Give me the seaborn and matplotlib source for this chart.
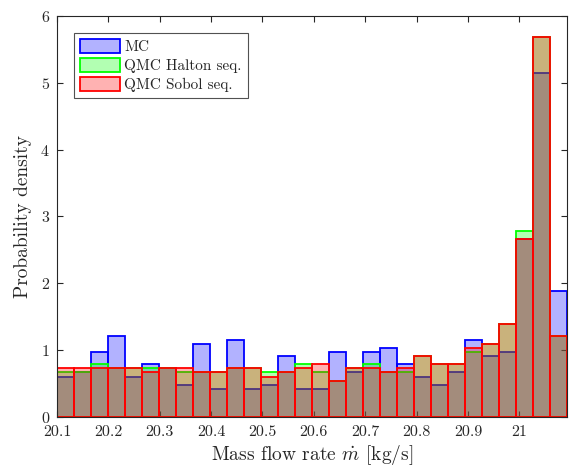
import numpy as np
import pandas as pd
import matplotlib
matplotlib.use("Agg")
import matplotlib.pyplot as plt
import seaborn as sns

# Histogram bins (30 equal bins)
bin_start = 20.1
bin_width = 0.03308
n_bins = 30

# Probability density per bin for each sampling method
mc_density = [0.60, 0.67, 0.97, 1.21, 0.60, 0.79, 0.73, 0.48, 1.09, 0.42,
              1.15, 0.42, 0.48, 0.91, 0.42, 0.42, 0.97, 0.67, 0.97, 1.03,
              0.79, 0.60, 0.48, 0.67, 1.15, 0.91, 0.97, 2.66, 5.14, 1.88]
halton_density = [0.67, 0.67, 0.79, 0.73, 0.73, 0.73, 0.73, 0.67, 0.67, 0.67,
                  0.73, 0.73, 0.67, 0.67, 0.79, 0.67, 0.54, 0.73, 0.79, 0.67,
                  0.67, 0.91, 0.79, 0.79, 0.97, 1.09, 1.39, 2.78, 5.69, 1.21]
sobol_density = [0.73, 0.73, 0.73, 0.73, 0.73, 0.67, 0.73, 0.73, 0.67, 0.67,
                 0.73, 0.73, 0.60, 0.67, 0.73, 0.79, 0.54, 0.73, 0.73, 0.67,
                 0.73, 0.91, 0.79, 0.79, 1.03, 1.09, 1.39, 2.66, 5.69, 1.21]

series_names = ["MC", "QMC Halton seq.", "QMC Sobol seq."]
series_colors = [(0, 0, 1), (0, 1, 0), (1, 0, 0)]

x_ticks = [20.1, 20.2, 20.3, 20.4, 20.5, 20.6, 20.7, 20.8, 20.9, 21.0]
x_tick_labels = ["20.1", "20.2", "20.3", "20.4", "20.5", "20.6", "20.7", "20.8", "20.9", "21"]
y_ticks = [0, 1, 2, 3, 4, 5, 6]

sns.set_style("ticks")
plt.rcParams["font.family"] = ["cmr10", "DejaVu Serif"]
plt.rcParams["mathtext.fontset"] = "cm"
plt.rcParams["axes.formatter.use_mathtext"] = True

edges = [bin_start + bin_width * i for i in range(n_bins + 1)]
centers = [0.5 * (edges[i] + edges[i + 1]) for i in range(n_bins)]

fig = plt.figure(figsize=(5.71, 4.68), dpi=100)
ax = fig.add_axes([0.0998, 0.1096, 0.8927, 0.8562])

ink = (0.15, 0.15, 0.15)
for name, dens, col in zip(series_names,
                           [mc_density, halton_density, sobol_density],
                           series_colors):
    df = pd.DataFrame({"x": centers, "w": dens})
    sns.histplot(data=df, x="x", weights="w", bins=edges, stat="count",
                 ax=ax, label=name, element="bars", fill=True,
                 facecolor=(*col, 0.3), edgecolor=(*col, 1.0),
                 linewidth=1.3)

ax.set_xlim(edges[0], edges[-1])
ax.set_ylim(0, 6)
ax.set_xticks(x_ticks)
ax.set_xticklabels(x_tick_labels)
ax.set_yticks(y_ticks)
ax.tick_params(direction="in", length=4, width=0.8, top=True, right=True,
               labelsize=11.5, colors=ink, labelcolor=ink)
ax.tick_params(axis="y", pad=5)
ax.tick_params(axis="x", pad=6)
for s in ax.spines.values():
    s.set_visible(True)
    s.set_color(ink)
    s.set_linewidth(0.8)
ax.set_xlabel(r"Mass flow rate $\dot{m}$ [kg/s]", fontsize=14, color=ink, labelpad=3)
ax.set_ylabel("Probability density", fontsize=14, color=ink, labelpad=6)

leg = ax.legend(loc="upper left", bbox_to_anchor=(0.0334, 0.9576),
                borderaxespad=0, fontsize=11, frameon=True, fancybox=False,
                handlelength=2.6, handleheight=1.0, handletextpad=0.3,
                labelspacing=0.25, borderpad=0.4)
leg.get_frame().set_edgecolor(ink)
leg.get_frame().set_linewidth(0.8)

fig.savefig("out.png", dpi=100)
